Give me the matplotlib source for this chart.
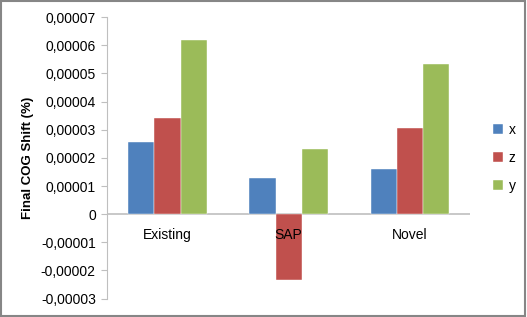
import numpy as np
import matplotlib
matplotlib.use('Agg')
import matplotlib.pyplot as plt
from matplotlib.patches import Rectangle
from matplotlib.ticker import FuncFormatter

# Data
categories = ['Existing', 'SAP', 'Novel']
series_names = ['x', 'z', 'y']
x_vals = [0.0000258, 0.0000127, 0.0000160]
z_vals = [0.0000342, -0.0000235, 0.0000306]
y_vals = [0.0000617, 0.0000233, 0.0000534]
colors = ['#4F81BD', '#C0504D', '#9BBB59']

plt.rcParams['font.family'] = ['Liberation Sans', 'DejaVu Sans']

fig = plt.figure(figsize=(5.27, 3.17), dpi=100)
ax = fig.add_axes([0.203, 0.058, 0.689, 0.888])

pos = np.arange(len(categories))
w = 0.215
for i, (name, vals) in enumerate(zip(series_names, [x_vals, z_vals, y_vals])):
    ax.bar(pos + (i - 1) * w, vals, width=w, color=colors[i], label=name,
           edgecolor='white', linewidth=0.3)

ax.set_xlim(-0.5, 2.5)
ax.set_ylim(-0.00003, 0.00007)
ax.set_yticks(np.arange(-3, 8) * 1e-5)

def fmt(v, p):
    if abs(v) < 1e-12:
        return '0'
    return ('%.5f' % v).replace('.', ',')

ax.yaxis.set_major_formatter(FuncFormatter(fmt))
ax.axhline(0, color='#BFBFBF', linewidth=1.2, zorder=0)
ax.set_xticks([])
for i, c in enumerate(categories):
    ax.text(i, -0.0000048, c, ha='center', va='top', fontsize=10)

for s in ['top', 'right', 'bottom']:
    ax.spines[s].set_visible(False)
ax.spines['left'].set_color('#BFBFBF')
ax.tick_params(axis='y', colors='#BFBFBF', labelcolor='black', labelsize=10,
               length=4, direction='out', pad=4)
ax.set_ylabel('Final COG Shift (%)', fontsize=9.5, fontweight='bold', labelpad=5)

ax.legend(loc='center left', bbox_to_anchor=(1.03, 0.5), frameon=False,
          fontsize=10, handlelength=0.7, handleheight=0.7, labelspacing=1.0,
          handletextpad=0.4)

fig.patches.append(Rectangle((0.002, 0.003), 0.995, 0.994, transform=fig.transFigure,
                             fill=False, edgecolor='#868686', linewidth=1.5))

fig.savefig('out.png', dpi=100)
